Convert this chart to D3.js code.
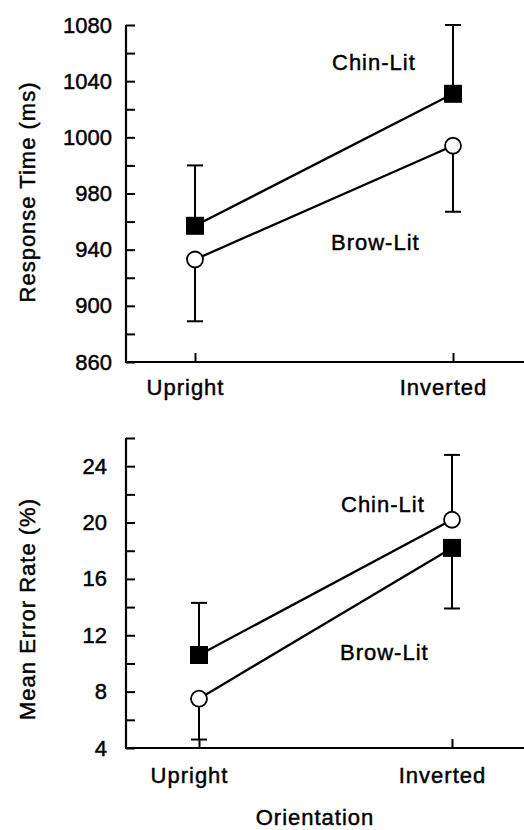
<!DOCTYPE html>
<html><head><meta charset="utf-8">
<script src="https://cdn.jsdelivr.net/npm/d3@7"></script>
<style>
html,body{margin:0;padding:0;background:#fff;}
svg{display:block;font-family:"Liberation Sans",Arial,Helvetica,sans-serif;}
svg text{stroke:#000;stroke-width:0.45px;}
</style></head><body>
<svg id="c" width="524" height="830"></svg>
<script>
// ---------- data ----------
const conditions = ["Upright", "Inverted"];
const seriesNames = ["Chin-Lit", "Brow-Lit"];

// Top panel: Response Time (ms) — tick labels exactly as printed on the original axis
const rtTickLabels = [860, 900, 940, 980, 1000, 1040, 1080];
const rtMinorTicks = [880, 920, 960, 990, 1020, 1060];
const rtChin = [957, 1031];
const rtChinErr = [990, 1080];
const rtChinShapes = ["square", "square"];
const rtBrow = [933, 997];
const rtBrowErr = [889, 967];
const rtBrowShapes = ["circle", "circle"];

// Bottom panel: Mean Error Rate (%)
const erTickLabels = [4, 8, 12, 16, 20, 24];
const erMinorTicks = [6, 10, 14, 18, 22, 26];
const erChin = [10.6, 20.2];
const erChinErr = [14.3, 24.8];
const erChinShapes = ["square", "circle"];
const erBrow = [7.5, 18.2];
const erBrowErr = [4.6, 13.9];
const erBrowShapes = ["circle", "square"];

// ---------- drawing ----------
const svg = d3.select("#c");
const W = 524;
const axisX = 126;

function panel(cfg) {
  const g = svg.append("g");
  const x = d3.scalePoint().domain(conditions).range(cfg.xRange);
  const y = d3.scaleLinear().domain(cfg.yDomain).range(cfg.yRange);
  const yTop = cfg.yRange[cfg.yRange.length - 1];
  const yBot = cfg.yRange[0];

  // y axis: major ticks with labels
  const ya = g.append("g").attr("transform", `translate(${axisX},0)`)
    .call(d3.axisLeft(y).tickValues(cfg.ticks).tickSizeInner(-9).tickSizeOuter(0)
      .tickPadding(cfg.labelPad).tickFormat(d => d));
  ya.select(".domain").remove();
  ya.selectAll("line").attr("stroke", "#000").attr("stroke-width", 2);
  ya.selectAll("text").attr("font-size", 22).attr("fill", "#000")
    .attr("font-family", '"Liberation Sans",Arial,sans-serif');
  // minor ticks
  const ym = g.append("g").attr("transform", `translate(${axisX},0)`)
    .call(d3.axisLeft(y).tickValues(cfg.minor).tickSizeInner(-9).tickSizeOuter(0).tickFormat(""));
  ym.select(".domain").remove();
  ym.selectAll("line").attr("stroke", "#000").attr("stroke-width", 2);

  // x axis ticks + labels
  const xa = g.append("g").attr("transform", `translate(0,${yBot})`)
    .call(d3.axisBottom(x).tickSizeInner(-9).tickSizeOuter(0).tickPadding(cfg.xPad));
  xa.select(".domain").remove();
  xa.selectAll("line").attr("stroke", "#000").attr("stroke-width", 2);
  xa.selectAll("text").attr("font-size", 22).attr("fill", "#000").attr("dx", -10)
    .attr("letter-spacing", 1)
    .attr("font-family", '"Liberation Sans",Arial,sans-serif');

  // axis lines
  g.append("line").attr("x1", axisX).attr("x2", axisX).attr("y1", yTop).attr("y2", yBot + 1)
    .attr("stroke", "#000").attr("stroke-width", 2.2);
  g.append("line").attr("x1", axisX - 1).attr("x2", W).attr("y1", yBot).attr("y2", yBot)
    .attr("stroke", "#000").attr("stroke-width", 2.2);

  // y title
  g.append("text").attr("transform", `translate(35,${cfg.titleY}) rotate(-90)`)
    .attr("text-anchor", "middle").attr("font-size", 22).attr("letter-spacing", 1)
    .attr("fill", "#000").text(cfg.title);

  const series = [
    { name: seriesNames[0], vals: cfg.chin, err: cfg.chinErr, shapes: cfg.chinShapes },
    { name: seriesNames[1], vals: cfg.brow, err: cfg.browErr, shapes: cfg.browShapes }
  ];
  const line = d3.line().x((d, i) => x(conditions[i])).y(d => y(d));
  const cap = 8;

  series.forEach(s => {
    // error bars
    s.vals.forEach((v, i) => {
      const cx = x(conditions[i]);
      g.append("line").attr("x1", cx).attr("x2", cx).attr("y1", y(v)).attr("y2", y(s.err[i]))
        .attr("stroke", "#000").attr("stroke-width", 2);
      g.append("line").attr("x1", cx - cap).attr("x2", cx + cap).attr("y1", y(s.err[i])).attr("y2", y(s.err[i]))
        .attr("stroke", "#000").attr("stroke-width", 2);
    });
    g.append("path").datum(s.vals).attr("d", line).attr("fill", "none")
      .attr("stroke", "#000").attr("stroke-width", 2.3);
  });
  series.forEach(s => {
    s.vals.forEach((v, i) => {
      const cx = x(conditions[i]), cy = y(v);
      if (s.shapes[i] === "square") {
        g.append("rect").attr("x", cx - 9).attr("y", cy - 9).attr("width", 18).attr("height", 18)
          .attr("fill", "#000");
      } else {
        g.append("circle").attr("cx", cx).attr("cy", cy).attr("r", 8)
          .attr("fill", "#fff").attr("stroke", "#000").attr("stroke-width", 1.8);
      }
    });
  });

  // series labels
  cfg.labels.forEach((t, k) => {
    g.append("text").attr("x", t.x).attr("y", t.y).attr("font-size", 22)
      .attr("letter-spacing", 1).attr("fill", "#000").text(seriesNames[k]);
  });
}

panel({
  xRange: [195, 453],
  yDomain: rtTickLabels,
  yRange: rtTickLabels.map((d, i) => 362 - i * (337 / 6)),
  ticks: rtTickLabels, minor: rtMinorTicks, labelPad: 14, xPad: 17,
  title: "Response Time (ms)", titleY: 192,
  chin: rtChin, chinErr: rtChinErr, chinShapes: rtChinShapes,
  brow: rtBrow, browErr: rtBrowErr, browShapes: rtBrowShapes,
  labels: [{ x: 332, y: 70 }, { x: 331, y: 250 }]
});

panel({
  xRange: [199, 452],
  yDomain: [4, 26],
  yRange: [748, 438],
  ticks: erTickLabels, minor: erMinorTicks, labelPad: 19, xPad: 19,
  title: "Mean Error Rate (%)", titleY: 609,
  chin: erChin, chinErr: erChinErr, chinShapes: erChinShapes,
  brow: erBrow, browErr: erBrowErr, browShapes: erBrowShapes,
  labels: [{ x: 341, y: 512 }, { x: 340, y: 660 }]
});

svg.append("text").attr("x", 315).attr("y", 825).attr("text-anchor", "middle")
  .attr("font-size", 22).attr("letter-spacing", 1).attr("fill", "#000").text("Orientation");
</script>
</body></html>
